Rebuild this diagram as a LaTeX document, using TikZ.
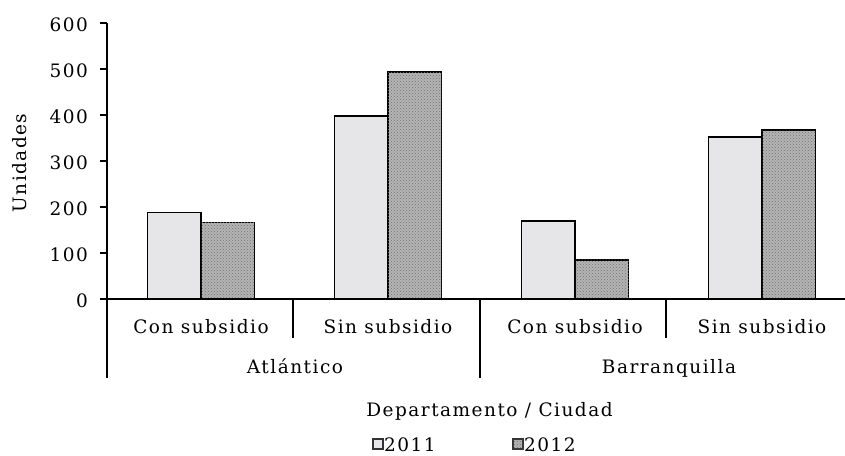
\documentclass[tikz,border=0pt]{standalone}
\usepackage{fontspec}
\setmainfont{DejaVu Serif}[LetterSpace=8]
\usepackage{tikz}
\usetikzlibrary{positioning,patterns}
\definecolor{marble}{HTML}{E6E6E9}
\definecolor{granite}{HTML}{B4B4B4}
\newcommand\chartfont{\fontsize{18.5}{22}\selectfont}
\tikzset{
	bar11/.style={draw=black, line width=1.6pt, fill=marble},
	bar12/.style={draw=black, line width=1.6pt, fill=granite,
		postaction={pattern=crosshatch dots, pattern color=black!55}},
	axisline/.style={line width=1.5pt},
	catlabel/.style={anchor=base, inner sep=0pt, font=\chartfont},
	key/.style={draw=black!80, line width=1.1pt, minimum size=10pt, inner sep=0pt}
}

\begin{document}
\begin{tikzpicture}[x=1pt, y=1pt, font=\chartfont]
		\useasboundingbox (-107,-156) rectangle (738,299);
		% bars: centre of the pair / 2011 / 2012
		\foreach \cx/\va/\vb in {94/188/166, 281/398/493, 468/170/85, 655/352/367}{
			\draw[bar11] ({\cx-53.5},0) rectangle (\cx,{\va*0.46});
			\draw[bar12] (\cx,0) rectangle ({\cx+53.5},{\vb*0.46});
		}
		% axes and ticks
		\draw[axisline] (0,0) -- (0,276);
		\draw[axisline] (-7,0) -- (738,0);
		\foreach \v in {0,100,...,600}{
			\draw[axisline] (-7,{\v*0.46}) -- (0,{\v*0.46});
			\node[anchor=base east, inner sep=0pt] (tick\v) at (-19,{\v*0.46-8.5}) {\v};
		}
		\foreach \dx/\len in {0/79, 186/39, 373/79, 559/39}
			\draw[axisline] (\dx,0) -- (\dx,-\len);
		% category labels
		\node[catlabel] (cona) at (94,-34) {Con subsidio};
		\node[catlabel] (sina) at (281,-34) {Sin subsidio};
		\node[catlabel] (conb) at (468,-34) {Con subsidio};
		\node[catlabel] (sinb) at (655,-34) {Sin subsidio};
		\node[catlabel] (atl) at (188,-74) {Atlántico};
		\node[catlabel] (baq) at (562,-74) {Barranquilla};
		\node[catlabel] (xtitle) at (382.5,-117) {Departamento / Ciudad};
		\node[rotate=90, inner sep=0pt] (ytitle) at (-87,136) {Unidades};
		% legend
		\node[key, fill=marble] (key11) at (271,-145) {};
		\node[anchor=base west, inner sep=0pt] (lab11) at (277,-152.5) {2011};
		\node[key, fill=granite, postaction={pattern=crosshatch dots, pattern color=black!55}] (key12) at (411,-145) {};
		\node[anchor=base west, inner sep=0pt] (lab12) at (417,-152.5) {2012};
	\end{tikzpicture}
\end{document}
